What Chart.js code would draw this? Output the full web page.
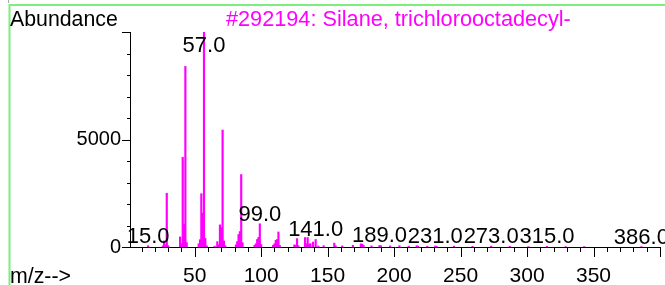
<!DOCTYPE html>
<html><head><meta charset="utf-8">
<script src="https://cdn.jsdelivr.net/npm/chart.js@4"></script>
<style>html,body{margin:0;padding:0;background:#fff;overflow:hidden}#wrap{position:relative;width:665px;height:285px}</style>
</head><body><div id="wrap"><canvas id="c" width="665" height="285"></canvas></div>
<script>
// m/z values and abundances
const mzValues = [15,26,27,28,29,30,39,40,41,42,43,44,53,54,55,56,57,58,59,65,67,68,69,70,71,72,73,
  81,82,83,84,85,86,95,96,97,98,99,100,109,110,111,112,113,114,125,126,127,128,133,134,135,136,137,139,141,143,
  147,155,156,161,169,175,176,177,183,189,190,197,204,211,217,218,225,231,232,245,259,273,287,301,315,329,343,386];
const abundances = [60,50,280,100,2500,60,470,150,4170,1060,8400,200,150,340,2480,1580,10000,400,60,40,250,100,1030,900,5440,280,60,
  100,250,580,720,3370,200,80,150,350,450,1080,120,80,150,310,350,700,80,100,80,390,60,440,150,440,120,160,230,350,50,
  60,180,60,50,80,150,130,80,50,70,60,50,60,40,60,40,40,50,30,40,30,40,30,20,30,20,20,20];
const labeledPeaks = [15,57,99,141,189,231,273,315,386];
const xTickLabels = [50,100,150,200,250,300,350];
const yTickLabels = [0,5000];
const chartTitle = '#292194: Silane, trichlorooctadecyl-';
const yAxisTitle = 'Abundance';
const xAxisTitle = 'm/z-->';

const FAM = '"Liberation Sans", Arial, sans-serif';

const decorPlugin = {
  id: 'decor',
  beforeDraw(chart) {
    const ctx = chart.ctx;
    ctx.save();
    ctx.strokeStyle = '#7ded7d';
    ctx.lineWidth = 2;
    ctx.beginPath();
    ctx.moveTo(9.5, 5); ctx.lineTo(665, 5);
    ctx.moveTo(9.5, 4); ctx.lineTo(9.5, 285);
    ctx.stroke();
    ctx.strokeStyle = '#aaaaaa'; ctx.lineWidth = 1;
    ctx.beginPath(); ctx.moveTo(8.5, 0); ctx.lineTo(8.5, 3); ctx.stroke();
    ctx.textBaseline = 'alphabetic';
    ctx.textAlign = 'left';
    ctx.fillStyle = '#000';
    ctx.font = '21.3px ' + FAM;
    ctx.fillText(yAxisTitle, 10, 26);
    ctx.fillText(xAxisTitle, 10, 283);
    ctx.fillStyle = '#ff00ff';
    ctx.font = '21.7px ' + FAM;
    ctx.fillText(chartTitle, 226, 26);
    ctx.restore();
  },
  afterDraw(chart) {
    const ctx = chart.ctx, xs = chart.scales.x, ys = chart.scales.y, a = chart.chartArea;
    ctx.save();
    ctx.strokeStyle = '#000'; ctx.lineWidth = 1;
    ctx.beginPath();
    xs.ticks.forEach(t => {
      const px = Math.round(xs.getPixelForValue(t.value)) + 0.5;
      const len = t.value % 50 === 0 ? 10 : 5;
      ctx.moveTo(px, a.bottom); ctx.lineTo(px, a.bottom + len);
    });
    ys.ticks.forEach(t => {
      const py = Math.round(ys.getPixelForValue(t.value)) + 0.5;
      const len = t.value % 5000 === 0 ? 8 : 3;
      ctx.moveTo(a.left - len, py); ctx.lineTo(a.left, py);
    });
    ctx.stroke();
    ctx.restore();
  },
  afterDatasetsDraw(chart) {
    const ctx = chart.ctx, xs = chart.scales.x, ys = chart.scales.y, a = chart.chartArea;
    ctx.save();
    ctx.font = '22px ' + FAM; ctx.fillStyle = '#000';
    ctx.textAlign = 'center'; ctx.textBaseline = 'alphabetic';
    labeledPeaks.forEach(m => {
      const i = mzValues.indexOf(m);
      const px = xs.getPixelForValue(m);
      const py = ys.getPixelForValue(abundances[i]);
      const yb = Math.max(py - 3, a.top + 20);
      ctx.fillText(m.toFixed(1), px, yb);
    });
    ctx.restore();
  }
};

new Chart(document.getElementById('c'), {
  type: 'bar',
  data: {
    datasets: [{
      data: mzValues.map((m, i) => ({x: m, y: abundances[i]})),
      backgroundColor: '#ff00ff',
      borderWidth: 0,
      barThickness: 1.5
    }]
  },
  options: {
    responsive: false,
    animation: false,
    devicePixelRatio: 1,
    layout: {padding: {top: 32, right: 5, left: 0, bottom: 0}},
    plugins: {legend: {display: false}, tooltip: {enabled: false}},
    scales: {
      x: {
        type: 'linear', min: 1.35, max: 400, offset: false,
        grid: {display: false, drawTicks: false},
        border: {display: true, color: '#000', width: 1},
        afterBuildTicks: s => { const t = []; for (let v = 10; v <= 400; v += 10) t.push({value: v}); s.ticks = t; },
        afterFit: s => { s.height = 38; s.paddingLeft = 0; s.paddingRight = 0; },
        ticks: {
          autoSkip: false, maxRotation: 0, minRotation: 0, padding: 17,
          color: '#000', font: {family: FAM, size: 21},
          callback: v => xTickLabels.includes(v) ? String(v) : ''
        }
      },
      y: {
        min: 0, max: 10000,
        grid: {display: false, drawTicks: false},
        border: {display: true, color: '#000', width: 1},
        afterBuildTicks: s => { const t = []; for (let v = 0; v <= 10000; v += 1000) t.push({value: v}); s.ticks = t; },
        afterFit: s => { s.width = 130; s.paddingTop = 0; s.paddingBottom = 0; },
        ticks: {
          autoSkip: false, padding: 9,
          color: '#000', font: {family: FAM, size: 20},
          callback: v => yTickLabels.includes(v) ? String(v) : ''
        }
      }
    }
  },
  plugins: [decorPlugin]
});
</script></body></html>
